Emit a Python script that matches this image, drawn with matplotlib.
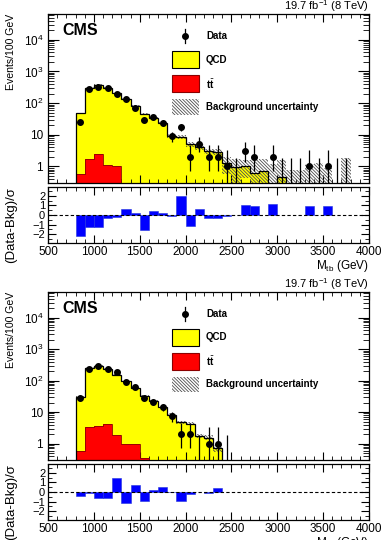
import numpy as np
import matplotlib
matplotlib.use("Agg")
import matplotlib.pyplot as plt
from matplotlib.patches import Rectangle
from matplotlib.ticker import MultipleLocator, LogLocator, FuncFormatter, NullFormatter

plt.rcParams['font.family'] = ['Liberation Sans', 'DejaVu Sans']
plt.rcParams['mathtext.fontset'] = 'custom'
plt.rcParams['mathtext.rm'] = 'Liberation Sans'
plt.rcParams['mathtext.it'] = 'Liberation Sans:italic'
plt.rcParams['mathtext.bf'] = 'Liberation Sans:bold'
plt.rcParams['hatch.linewidth'] = 0.6
plt.rcParams['axes.linewidth'] = 0.9

# 100 GeV bins from 800 to 3900 GeV
edges = np.arange(800, 4000, 100)
centers = edges[:-1] + 50
nan = np.nan

# ---- upper plot ----
qcd_top = [46.4, 308, 368, 309, 204, 138, 80, 45, 34, 24, 9.2, 8.7, 5.1, 4.2, 3.0, 2.9,
           1.28, 0.95, 1.02, 0.61, 0.74, 0, 0.48, 0, 0, 0, 0, 0, 0, 0, 0]
tt_top = [0.58, 1.76, 2.4, 1.15, 1.0] + [0] * 26
data_top = [25, 275, 330, 290, 190, 135, 71, 30, 36, 24, 9, 17, 2, 5, 2, 2,
            1, 0, 3, 2, nan, 2, 0, 0, 0, 1, 0, 1, 0, 0, nan]
ratio_top = [-2.2, -1.2, -1.2, -0.28, -0.2, 0.6, 0.17, -1.55, 0.38, 0.17, -0.1, 2.0, -1.1, 0.6, -0.35, -0.28,
             -0.15, nan, 1.05, 0.9, nan, 1.15, nan, nan, nan, 0.9, nan, 0.95, nan, nan, nan]
unc_top = [3, 15, 18, 15, 10, 7, 5, 3, 3, 2.5, 1.2, 1.2, 0.9, 0.8, 0.6, 0.6,
           0.7, 0.8, 0.6, 1.0, 1.0, 1.2, 1.1, 0.8, 0.8, 1.2, 1.3, 0.9, 0, 1.8, 0]

# ---- lower plot ----
qcd_bot = [29.4, 246.7, 291.3, 232.8, 152.2, 94, 58, 31.7, 22.4, 13.85, 8.2, 4.7, 4.3, 1.75, 1.55, 0.72] + [0] * 15
tt_bot = [0.59, 3.3, 3.7, 4.2, 1.8, 1.0, 1.0, 0.34, 0.2, 0.15, 0.1] + [0] * 20
data_bot = [28, 236, 290, 240, 187, 88, 61, 28, 21.6, 14.3, 7.4, 2, 2, 0, 1, 1, 0] + [nan] * 14
ratio_bot = [-0.37, -0.13, -0.57, -0.57, 1.47, -1.1, 0.7, -0.97, 0.17, 0.53, -0.03, -0.9, -0.23, nan,
             -0.13, 0.43] + [nan] * 15
unc_bot = [2, 12, 14, 12, 8, 5, 3.5, 2, 1.5, 1.0, 0.7, 0.5, 0.5, 0.25, 0.25, 0.2] + [0] * 15

# poisson (garwood) error bars for small counts
garwood = {1: (0.827, 2.299), 2: (1.292, 2.637), 3: (1.633, 2.918), 4: (1.914, 3.162), 5: (2.159, 3.382)}

FLOOR = 1e-3
HATCH = '\\' * 10
FS = 8.5


def log_label(v, pos):
    if v == 1:
        return '1'
    if v == 10:
        return '10'
    return r'$10^{%d}$' % round(np.log10(v))


def draw(ax, axr, qcd, tt, data, ratio, unc):
    qcd = np.array(qcd, float)
    tt = np.array(tt, float)
    tot = qcd + tt
    data = np.array(data, float)
    unc = np.array(unc, float)

    ax.stairs(np.where(tot > 0, tot, FLOOR), edges, baseline=FLOOR, fill=True,
              color='#ffff00', zorder=1)
    ax.stairs(np.where(tt > 0, tt, FLOOR), edges, baseline=FLOOR, fill=True,
              color='#ff0000', zorder=2)
    ax.stairs(np.where(tt > 0, tt, FLOOR), edges, baseline=FLOOR, color='#8b0000', lw=0.6, zorder=3)

    # background uncertainty band
    lo = np.maximum(tot - unc, FLOOR)
    hi = tot + unc
    m = unc > 0
    ax.bar(centers[m], (hi - lo)[m], bottom=lo[m], width=100, fill=False, hatch=HATCH,
           edgecolor='0.3', lw=0, zorder=4)

    ax.stairs(np.where(tot > 0, tot, FLOOR), edges, baseline=FLOOR, color='k', lw=0.9, zorder=5)

    # data
    ok = np.isfinite(data) & (data > 0)
    elo = [garwood[int(round(d))][0] if d <= 5 else np.sqrt(d) for d in data[ok]]
    ehi = [garwood[int(round(d))][1] if d <= 5 else np.sqrt(d) for d in data[ok]]
    ax.errorbar(centers[ok], data[ok], yerr=[elo, ehi], fmt='o', color='k', ms=4,
                elinewidth=0.9, capsize=0, zorder=6)
    zero = np.isfinite(data) & (data == 0)
    ax.vlines(centers[zero], FLOOR, 1.841, color='k', lw=0.9, zorder=6)

    ax.set_yscale('log')
    ax.set_xlim(500, 4000)
    ax.set_ylim(0.3, 6.5e4)
    ax.yaxis.set_major_locator(LogLocator(base=10, numticks=10))
    ax.yaxis.set_minor_locator(LogLocator(base=10, subs=np.arange(2, 10), numticks=20))
    ax.yaxis.set_major_formatter(FuncFormatter(log_label))
    ax.yaxis.set_minor_formatter(NullFormatter())
    ax.xaxis.set_major_locator(MultipleLocator(500))
    ax.xaxis.set_minor_locator(MultipleLocator(100))
    ax.tick_params(which='both', direction='in', top=True, right=True, labelbottom=False, labelsize=FS)
    ax.tick_params(axis='y', which='major', length=8)
    ax.tick_params(axis='y', which='minor', length=4)
    ax.tick_params(axis='x', which='major', length=6)
    ax.tick_params(axis='x', which='minor', length=3)

    # labels and legend
    ax.text(0.044, 0.947, 'CMS', transform=ax.transAxes, ha='left', va='top',
            fontsize=11.5, fontweight='bold')
    ax.text(1.0, 1.022, r'19.7 fb$^{-1}$ (8 TeV)', transform=ax.transAxes, ha='right',
            va='baseline', fontsize=8)
    x0, w, tx = 0.386, 0.084, 0.492
    ax.plot([x0 + w / 2], [0.870], 'ko', ms=4, transform=ax.transAxes)
    ax.plot([x0 + w / 2] * 2, [0.83, 0.91], 'k-', lw=0.9, transform=ax.transAxes)
    ax.add_patch(Rectangle((x0, 0.680), w, 0.101, transform=ax.transAxes,
                           facecolor='#ffff00', edgecolor='k', lw=0.8, zorder=7))
    ax.add_patch(Rectangle((x0, 0.538), w, 0.101, transform=ax.transAxes,
                           facecolor='#ff0000', edgecolor='#8b0000', lw=0.8, zorder=7))
    ax.add_patch(Rectangle((x0, 0.402), w, 0.095, transform=ax.transAxes, fill=False,
                           hatch=HATCH, edgecolor='0.3', lw=0, zorder=7))
    for y, s in [(0.870, 'Data'), (0.730, 'QCD'), (0.588, r'$\mathbf{t}\bar{\mathbf{t}}$'),
                 (0.450, 'Background uncertainty')]:
        ax.text(tx, y, s, transform=ax.transAxes, ha='left', va='center',
                fontsize=7, fontweight='bold')

    # ratio panel
    r = np.array(ratio, float)
    ok = np.isfinite(r)
    axr.bar(centers[ok], r[ok], width=100, color='#0000ff', edgecolor='#2233dd', lw=0.4, zorder=2)
    axr.axhline(0, color='k', lw=0.8, ls=(0, (3, 2)), zorder=3)
    axr.set_xlim(500, 4000)
    axr.set_ylim(-2.9, 2.9)
    axr.set_yticks([-2, -1, 0, 1, 2])
    axr.set_yticklabels(['\u22122', '\u22121', '0', '1', '2'])
    axr.yaxis.set_minor_locator(MultipleLocator(0.5))
    axr.xaxis.set_major_locator(MultipleLocator(500))
    axr.xaxis.set_minor_locator(MultipleLocator(100))
    axr.tick_params(which='both', direction='in', top=True, right=True, labelsize=FS, pad=2)
    axr.tick_params(axis='y', labelsize=8)
    axr.tick_params(which='major', length=6)
    axr.tick_params(which='minor', length=3)
    axr.text(1.0, -0.26, r'M$_{\rm tb}$ (GeV)', transform=axr.transAxes, ha='right',
             va='top', fontsize=FS)


fig = plt.figure(figsize=(3.85, 5.40), dpi=100)
L, W = 48 / 385, 321 / 385
ax1 = fig.add_axes([L, 357 / 540, W, 169 / 540])
ax1r = fig.add_axes([L, 297 / 540, W, 56 / 540])
ax2 = fig.add_axes([L, 80 / 540, W, 168 / 540])
ax2r = fig.add_axes([L, 20 / 540, W, 56 / 540])

draw(ax1, ax1r, qcd_top, tt_top, data_top, ratio_top, unc_top)
draw(ax2, ax2r, qcd_bot, tt_bot, data_bot, ratio_bot, unc_bot)

for ytop, yrat in [(14, 225), (292, 502)]:
    fig.text(11 / 385, 1 - ytop / 540, 'Events/100 GeV', rotation=90, ha='center', va='top', fontsize=7.6)
    fig.text(11 / 385, 1 - yrat / 540, '(Data-Bkg)/\u03c3', rotation=90, ha='center', va='center',
             fontsize=9.5)

fig.savefig('out.png', dpi=100)
